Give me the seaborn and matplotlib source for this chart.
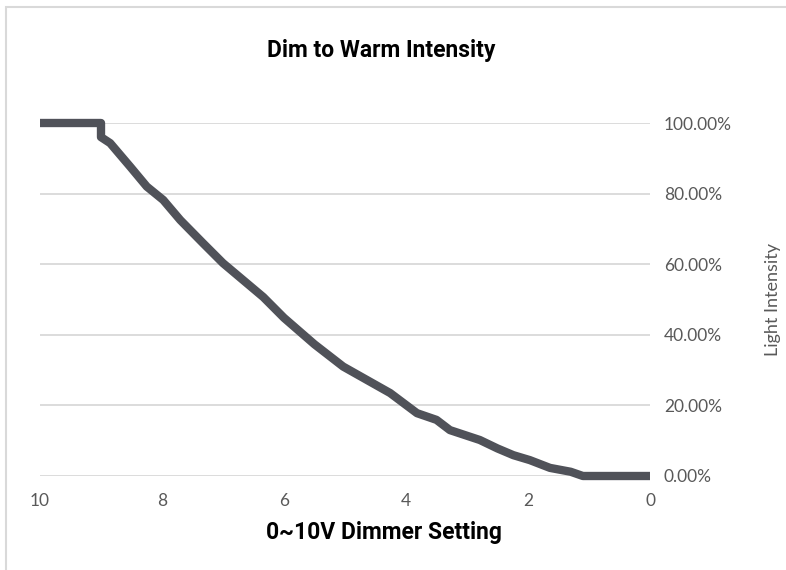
import matplotlib
matplotlib.use("Agg")
import matplotlib.pyplot as plt
import seaborn as sns
import pandas as pd
from matplotlib.ticker import FuncFormatter
from matplotlib.patches import Rectangle

voltage = [10, 9.0, 9.0, 8.85, 8.52, 8.25, 7.98, 7.7, 7.33, 7.0, 6.67, 6.34, 6.0,
           5.5, 5.03, 4.64, 4.26, 3.82, 3.5, 3.28, 2.79, 2.5, 2.24, 1.97, 1.64,
           1.3, 1.1, 0]
intensity = [100, 100, 96, 94.3, 87.6, 82, 78.2, 72.5, 66, 60.3, 55.5, 50.7, 44.8,
             37.3, 31, 27.2, 23.5, 17.8, 15.9, 13, 10.2, 7.8, 5.9, 4.5, 2.3,
             1.2, 0, 0]
x_ticks = [10, 8, 6, 4, 2, 0]
y_ticks = [0, 20, 40, 60, 80, 100]

df = pd.DataFrame({"Voltage": voltage, "Intensity": intensity})

sns.set_theme(style="white")
plt.rcParams['font.family'] = ['Lato', 'DejaVu Sans']
narrow = ['Liberation Sans Narrow', 'DejaVu Sans Condensed', 'Roboto', 'DejaVu Sans']

fig = plt.figure(figsize=(7.86, 5.70), dpi=100)
ax = fig.add_axes([40/786, 1-476/570, 610/786, 353/570])

sns.lineplot(data=df, x="Voltage", y="Intensity", sort=False, estimator=None,
             color="#505259", linewidth=6, ax=ax, clip_on=False,
             solid_joinstyle="round", solid_capstyle="butt")

ax.set_xlim(10, 0)
ax.set_ylim(0, 100)
ax.set_xticks(x_ticks)
ax.set_yticks(y_ticks)
ax.yaxis.tick_right()
ax.yaxis.set_label_position("right")
ax.yaxis.set_major_formatter(FuncFormatter(lambda v, p: f"{v:.2f}%"))
ax.grid(axis="y", color="#d9d9d9", linewidth=1.3)
ax.grid(axis="x", visible=False)
ax.set_axisbelow(True)
for s in ax.spines.values():
    s.set_visible(False)
ax.tick_params(axis="both", length=0, labelsize=12.5, labelcolor="#595959")
ax.tick_params(axis="y", pad=10)
ax.tick_params(axis="x", pad=12)

ax.set_ylabel("Light Intensity", fontsize=13, color="#595959")
ax.yaxis.set_label_coords(1 + (765 - 650) / 610, 0.5)
ax.set_xlabel("0~10V Dimmer Setting", fontsize=16.5, fontweight="bold",
              color="black", family=narrow, fontstretch="condensed")
ax.xaxis.set_label_coords((384 - 40) / 610, -(533 - 476) / 353)
ax.xaxis.label.set_va("center")

fig.text(381/786, 1-50/570, "Dim to Warm Intensity", ha="center", va="center",
         fontsize=16.5, fontweight="bold", color="black",
         family=narrow, fontstretch="condensed")

fig.patches.append(Rectangle((6/786, -0.1), 1.2, (570-7)/570 + 0.1,
                             transform=fig.transFigure, fill=False,
                             edgecolor="#d9d9d9", linewidth=1.5))

fig.savefig("out.png", dpi=100)
